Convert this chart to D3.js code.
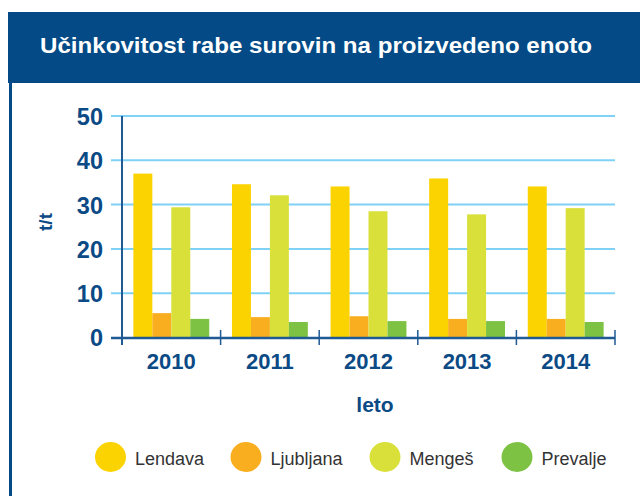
<!DOCTYPE html>
<html>
<head>
<meta charset="utf-8">
<script src="https://cdn.jsdelivr.net/npm/d3@7"></script>
<style>
  html, body { margin: 0; padding: 0; background: #fff; }
  svg { display: block; font-family: "Liberation Sans", Arial, sans-serif; }
</style>
</head>
<body>
<svg id="chart" width="640" height="496"></svg>
<script>
// data
const years = ["2010", "2011", "2012", "2013", "2014"];
const series = ["Lendava", "Ljubljana", "Mengeš", "Prevalje"];
const lendava   = [37.0, 34.6, 34.1, 35.9, 34.1];
const ljubljana = [5.5, 4.6, 4.8, 4.2, 4.2];
const menges    = [29.4, 32.1, 28.5, 27.8, 29.2];
const prevalje  = [4.2, 3.5, 3.7, 3.7, 3.5];
const yTicks = [0, 10, 20, 30, 40, 50];

const values = [lendava, ljubljana, menges, prevalje];
const colors = ["#fbd300", "#f9ae1f", "#d9e03a", "#7dc243"];

const navy = "#0b4a85";
const svg = d3.select("#chart");

// header band + left frame line
svg.append("rect")
  .attr("x", 8).attr("y", 12).attr("width", 632).attr("height", 71)
  .attr("fill", "#034a86");
svg.append("line")
  .attr("x1", 10.5).attr("x2", 10.5).attr("y1", 83).attr("y2", 496)
  .attr("stroke", "#034a86").attr("stroke-width", 3);

svg.append("text")
  .attr("x", 40).attr("y", 53)
  .attr("fill", "#fff")
  .attr("font-size", 22).attr("font-weight", "bold")
  .attr("textLength", 552).attr("lengthAdjust", "spacingAndGlyphs")
  .text("Učinkovitost rabe surovin na proizvedeno enoto");

// scales
const x = d3.scaleBand().domain(years).range([122, 615]).padding(0);
const xs = d3.scaleBand().domain(series).range([0, x.bandwidth()])
  .paddingInner(0).paddingOuter(0.6);
const y = d3.scaleLinear().domain([0, 50]).range([337.5, 116]);

// gridlines
svg.append("g").selectAll("line")
  .data(yTicks.filter(d => d > 0))
  .join("line")
  .attr("x1", 111).attr("x2", 615)
  .attr("y1", d => y(d)).attr("y2", d => y(d))
  .attr("stroke", "#7fd2f6").attr("stroke-width", 2);

// bars
const groups = svg.append("g").selectAll("g")
  .data(years)
  .join("g")
  .attr("transform", d => `translate(${x(d)},0)`);

groups.selectAll("rect")
  .data((yr, i) => series.map((s, j) => ({ s: s, v: values[j][i], c: colors[j] })))
  .join("rect")
  .attr("x", d => xs(d.s))
  .attr("width", xs.bandwidth())
  .attr("y", d => y(d.v))
  .attr("height", d => y(0) - y(d.v))
  .attr("fill", d => d.c);

// y axis
const yAxis = svg.append("g")
  .attr("transform", "translate(122,0)")
  .call(d3.axisLeft(y).tickValues(yTicks).tickSize(0).tickPadding(19));
yAxis.select(".domain").attr("stroke", "#1f5a94").attr("stroke-width", 2)
  .attr("d", "M0,116V345");
yAxis.selectAll("text")
  .attr("fill", navy).attr("font-size", 23.5).attr("font-weight", "bold")
  .attr("dy", "0.36em")
  .attr("font-family", "Liberation Sans, Arial, sans-serif");

// x axis
const xAxis = svg.append("g")
  .attr("transform", "translate(0,338)")
  .call(d3.axisBottom(x).tickSize(0).tickPadding(15));
xAxis.select(".domain").attr("stroke", "#1f5a94").attr("stroke-width", 2.5)
  .attr("d", "M111,0H615");
xAxis.selectAll("text")
  .attr("fill", navy).attr("font-size", 22).attr("font-weight", "bold")
  .attr("font-family", "Liberation Sans, Arial, sans-serif");

// band separators
svg.append("g").selectAll("line")
  .data(years)
  .join("line")
  .attr("x1", d => x(d) + x.bandwidth()).attr("x2", d => x(d) + x.bandwidth())
  .attr("y1", 330).attr("y2", 345)
  .attr("stroke", "#1f5a94").attr("stroke-width", 1.5);

// axis titles
svg.append("text")
  .attr("transform", "translate(52,222) rotate(-90)")
  .attr("text-anchor", "middle")
  .attr("fill", navy).attr("font-size", 19).attr("font-weight", "bold")
  .text("t/t");

svg.append("text")
  .attr("x", 375).attr("y", 412)
  .attr("text-anchor", "middle")
  .attr("fill", navy).attr("font-size", 21).attr("font-weight", "bold")
  .text("leto");

// legend
const legendX = [110.5, 246, 385, 517];
const legend = svg.append("g").selectAll("g")
  .data(series)
  .join("g")
  .attr("transform", (d, i) => `translate(${legendX[i]},457)`);
legend.append("ellipse")
  .attr("rx", 15.5).attr("ry", 15)
  .attr("fill", (d, i) => colors[i]);
legend.append("text")
  .attr("x", 24.5).attr("y", 8)
  .attr("fill", "#333").attr("font-size", 18)
  .text(d => d);
</script>
</body>
</html>
